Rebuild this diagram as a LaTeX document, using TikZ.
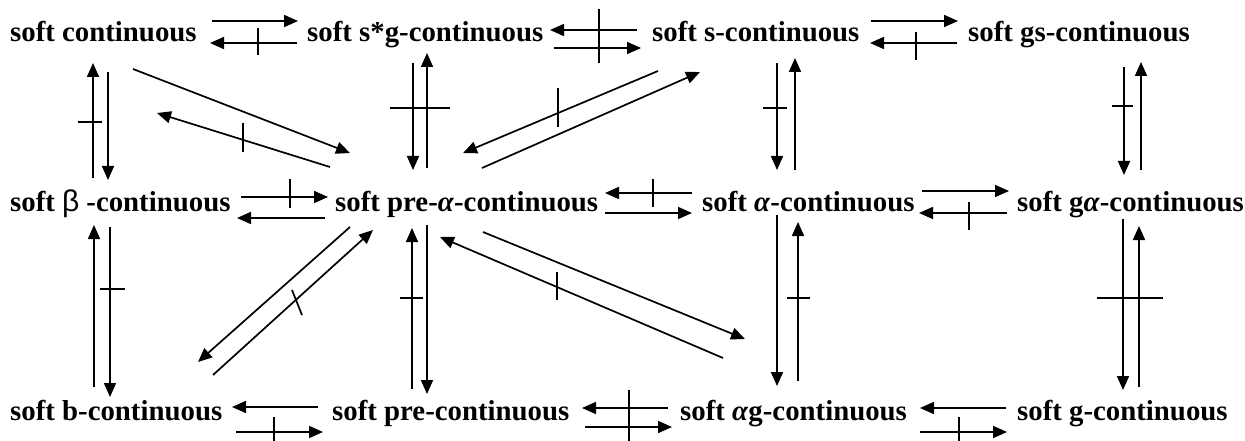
\documentclass[tikz,border=0pt]{standalone}
\usepackage{fontspec}
\setmainfont{Liberation Serif}
\newfontfamily\symf{Liberation Sans}
\usetikzlibrary{arrows.meta}
\begin{document}
\begin{tikzpicture}[x=1pt,y=-1pt,
  lbl/.style={anchor=base west,inner sep=0pt,font=\bfseries\fontsize{28.8}{30}\selectfont},
  ar/.style={-{Triangle[length=14pt,width=12pt]},line width=1.7pt},
  tk/.style={line width=1.7pt}]
\useasboundingbox (0,0) rectangle (1245,441);
% nodes
\node[lbl] (c)  at (10,42)   {soft continuous};
\node[lbl] (sg) at (307,42)  {soft s*g-continuous};
\node[lbl] (s)  at (652,42)  {soft s-continuous};
\node[lbl] (gs) at (968,42)  {soft gs-continuous};
\node[lbl] (be) at (10,211)  {soft {\symf\mdseries\fontsize{30}{30}\selectfont β}\hspace{7pt}-continuous};
\node[lbl] (pa) at (335,211) {soft pre-\textit{α}-continuous};
\node[lbl] (al) at (702,211) {soft \textit{α}-continuous};
\node[lbl] (ga) at (1017,211){soft g\textit{α}-continuous};
\node[lbl] (bc) at (10,420)  {soft b-continuous};
\node[lbl] (pc) at (332,420) {soft pre-continuous};
\node[lbl] (ag) at (680,420) {soft \textit{α}g-continuous};
\node[lbl] (g)  at (1017,420){soft g-continuous};
% top row
\draw[ar] ([shift={(202,-21)}]c.base west) -- ([shift={(-9,-21)}]sg.base west);
\draw[ar] ([shift={(-10,1)}]sg.base west) -- ([shift={(200,1)}]c.base west);
\draw[tk] ([shift={(248,-14)}]c.base west) -- ([shift={(248,13)}]c.base west);
\draw[ar] ([shift={(-15,-12)}]s.base west) -- ([shift={(243,-12)}]sg.base west);
\draw[ar] ([shift={(247,6)}]sg.base west) -- ([shift={(-11,6)}]s.base west);
\draw[tk] ([shift={(292,-33)}]sg.base west) -- ([shift={(292,21)}]sg.base west);
\draw[ar] ([shift={(219,-21)}]s.base west) -- ([shift={(-10,-21)}]gs.base west);
\draw[ar] ([shift={(-11,1)}]gs.base west) -- ([shift={(218,1)}]s.base west);
\draw[tk] ([shift={(264,-10)}]s.base west) -- ([shift={(264,18)}]s.base west);
% middle row
\draw[ar] ([shift={(231,-14)}]be.base west) -- ([shift={(-7,-14)}]pa.base west);
\draw[tk] ([shift={(280,-32)}]be.base west) -- ([shift={(280,-3)}]be.base west);
\draw[ar] ([shift={(-10,7)}]pa.base west) -- ([shift={(227,7)}]be.base west);
\draw[ar] ([shift={(-10,-18)}]al.base west) -- ([shift={(270,-18)}]pa.base west);
\draw[tk] ([shift={(318,-32)}]pa.base west) -- ([shift={(318,-4)}]pa.base west);
\draw[ar] ([shift={(270,2)}]pa.base west) -- ([shift={(-10,2)}]al.base west);
\draw[ar] ([shift={(220,-20)}]al.base west) -- ([shift={(-8,-20)}]ga.base west);
\draw[ar] ([shift={(-10,2)}]ga.base west) -- ([shift={(217,2)}]al.base west);
\draw[tk] ([shift={(267,-9)}]al.base west) -- ([shift={(267,19)}]al.base west);
% bottom row
\draw[ar] ([shift={(-14,-13)}]pc.base west) -- ([shift={(222,-13)}]bc.base west);
\draw[ar] ([shift={(226,12)}]bc.base west) -- ([shift={(-9,12)}]pc.base west);
\draw[tk] ([shift={(264,-3)}]bc.base west) -- ([shift={(264,27)}]bc.base west);
\draw[ar] ([shift={(-12,-12)}]ag.base west) -- ([shift={(250,-12)}]pc.base west);
\draw[ar] ([shift={(253,7)}]pc.base west) -- ([shift={(-8,7)}]ag.base west);
\draw[tk] ([shift={(297,-30)}]pc.base west) -- ([shift={(297,27)}]pc.base west);
\draw[ar] ([shift={(-11,-12)}]g.base west) -- ([shift={(240,-12)}]ag.base west);
\draw[ar] ([shift={(240,12)}]ag.base west) -- ([shift={(-10,12)}]g.base west);
\draw[tk] ([shift={(279,-3)}]ag.base west) -- ([shift={(279,27)}]ag.base west);
% verticals column 1
\draw[ar] ([shift={(83,-33)}]be.base west) -- ([shift={(83,21)}]c.base west);
\draw[tk] ([shift={(68,80)}]c.base west) -- ([shift={(92,80)}]c.base west);
\draw[ar] ([shift={(98,30)}]c.base west) -- ([shift={(98,-31)}]be.base west);
\draw[ar] ([shift={(84,-33)}]bc.base west) -- ([shift={(84,14)}]be.base west);
\draw[ar] ([shift={(100,16)}]be.base west) -- ([shift={(100,-23)}]bc.base west);
\draw[tk] ([shift={(90,78)}]be.base west) -- ([shift={(115,78)}]be.base west);
% column 2
\draw[ar] ([shift={(106,21)}]sg.base west) -- ([shift={(78,-41)}]pa.base west);
\draw[ar] ([shift={(92,-43)}]pa.base west) -- ([shift={(120,11)}]sg.base west);
\draw[tk] ([shift={(83,66)}]sg.base west) -- ([shift={(143,66)}]sg.base west);
\draw[ar] ([shift={(80,-31)}]pc.base west) -- ([shift={(77,17)}]pa.base west);
\draw[tk] ([shift={(65,87)}]pa.base west) -- ([shift={(88,87)}]pa.base west);
\draw[ar] ([shift={(92,14)}]pa.base west) -- ([shift={(95,-26)}]pc.base west);
% column 3
\draw[ar] ([shift={(125,21)}]s.base west) -- ([shift={(75,-41)}]al.base west);
\draw[tk] ([shift={(111,66)}]s.base west) -- ([shift={(135,66)}]s.base west);
\draw[ar] ([shift={(93,-41)}]al.base west) -- ([shift={(143,16)}]s.base west);
\draw[ar] ([shift={(75,4)}]al.base west) -- ([shift={(97,-34)}]ag.base west);
\draw[ar] ([shift={(118,-39)}]ag.base west) -- ([shift={(96,11)}]al.base west);
\draw[tk] ([shift={(85,87)}]al.base west) -- ([shift={(108,87)}]al.base west);
% column 4
\draw[ar] ([shift={(156,25)}]gs.base west) -- ([shift={(107,-36)}]ga.base west);
\draw[tk] ([shift={(144,64)}]gs.base west) -- ([shift={(165,64)}]gs.base west);
\draw[ar] ([shift={(124,-41)}]ga.base west) -- ([shift={(173,20)}]gs.base west);
\draw[ar] ([shift={(106,8)}]ga.base west) -- ([shift={(106,-30)}]g.base west);
\draw[ar] ([shift={(122,-33)}]g.base west) -- ([shift={(122,15)}]ga.base west);
\draw[tk] ([shift={(80,87)}]ga.base west) -- ([shift={(146,87)}]ga.base west);
% diagonals
\draw[ar] ([shift={(123,27)}]c.base west) -- ([shift={(15,-58)}]pa.base west);
\draw[ar] ([shift={(-5,-44)}]pa.base west) -- ([shift={(147,71)}]c.base west);
\draw[tk] ([shift={(233,81)}]c.base west) -- ([shift={(233,110)}]c.base west);
\draw[ar] ([shift={(6,29)}]s.base west) -- ([shift={(128,-58)}]pa.base west);
\draw[tk] ([shift={(-94,46)}]s.base west) -- ([shift={(-94,85)}]s.base west);
\draw[ar] ([shift={(147,-43)}]pa.base west) -- ([shift={(48,30)}]s.base west);
\draw[ar] ([shift={(15,16)}]pa.base west) -- ([shift={(188,-58)}]bc.base west);
\draw[ar] ([shift={(203,-45)}]bc.base west) -- ([shift={(38,19)}]pa.base west);
\draw[tk] ([shift={(282,-130)}]bc.base west) -- ([shift={(292,-105)}]bc.base west);
\draw[ar] ([shift={(148,21)}]pa.base west) -- ([shift={(65,-81)}]ag.base west);
\draw[ar] ([shift={(43,-62)}]ag.base west) -- ([shift={(105,26)}]pa.base west);
\draw[tk] ([shift={(222,61)}]pa.base west) -- ([shift={(222,89)}]pa.base west);
\end{tikzpicture}
\end{document}
